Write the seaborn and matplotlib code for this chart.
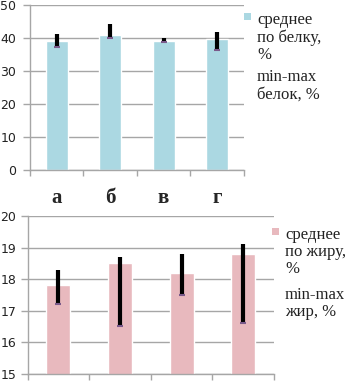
import matplotlib
matplotlib.use("Agg")
import matplotlib.pyplot as plt
import seaborn as sns
import pandas as pd
from matplotlib.ticker import FixedLocator

categories = ["а", "б", "в", "г"]
protein_mean = [39.1, 40.8, 39.1, 39.8]
protein_min = [37.1, 40.0, 38.7, 36.4]
protein_max = [41.2, 44.3, 40.1, 41.9]
fat_mean = [17.8, 18.5, 18.2, 18.8]
fat_min = [17.2, 16.5, 17.5, 16.6]
fat_max = [18.3, 18.7, 18.8, 19.1]

sns.set_style("white")
plt.rcParams["font.family"] = ["DejaVu Sans"]

grid_c = "#a6a6a6"
blue = "#abd8e2"
pink = "#e8b9be"

fig = plt.figure(figsize=(3.5, 3.81), dpi=100)
ax1 = fig.add_axes([30 / 350, (381 - 169.7) / 381, (243.7 - 30) / 350, (169.7 - 5) / 381])
ax2 = fig.add_axes([27.5 / 350, (381 - 373.7) / 381, (274 - 27.5) / 350, (373.7 - 216) / 381])

df1 = pd.DataFrame({"cat": categories, "val": protein_mean})
df2 = pd.DataFrame({"cat": categories, "val": fat_mean})

sns.barplot(data=df1, x="cat", y="val", color=blue, saturation=1, width=0.41, ax=ax1, zorder=2)
sns.barplot(data=df2, x="cat", y="val", color=pink, saturation=1, width=0.39, ax=ax2, zorder=2)

for ax, lo, hi in ((ax1, protein_min, protein_max), (ax2, fat_min, fat_max)):
    xs = list(range(len(categories)))
    ax.vlines(xs, lo, hi, color="black", lw=3.0, zorder=4)
    ax.plot(xs, lo, ls="none", marker="_", ms=5, mew=1.5, color="#7a5a8a", zorder=5)

ax1.set_ylim(0, 50)
ax1.set_yticks([0, 10, 20, 30, 40, 50])
ax2.set_ylim(15, 20)
ax2.set_yticks([15, 16, 17, 18, 19, 20])

for ax, pad in ((ax1, 5), (ax2, 3)):
    ax.set_xlim(-0.5, 3.5)
    ax.set_xlabel("")
    ax.set_ylabel("")
    ax.yaxis.grid(True, color=grid_c, lw=1.0, zorder=0)
    ax.set_axisbelow(True)
    for s in ("top", "right"):
        ax.spines[s].set_visible(False)
    for s in ("left", "bottom"):
        ax.spines[s].set_color(grid_c)
        ax.spines[s].set_linewidth(1.0)
    ax.xaxis.set_minor_locator(FixedLocator([-0.5, 0.5, 1.5, 2.5, 3.5]))
    ax.tick_params(axis="x", which="minor", length=4, width=1, color=grid_c, direction="out", bottom=True)
    ax.tick_params(axis="x", which="major", length=0)
    ax.tick_params(axis="y", which="major", length=5, width=1, color=grid_c, direction="out", left=True,
                   labelsize=9, labelcolor="#222222", pad=pad)

ax1.set_xticks(range(4))
ax1.set_xticklabels(categories, fontfamily="Liberation Serif", fontweight="bold", fontsize=15)
ax1.tick_params(axis="x", which="major", pad=13)
ax2.set_xticks(range(4))
ax2.set_xticklabels([""] * 4)

serif = "Liberation Serif"
tkw = dict(family=serif, fontsize=12, va="top", ha="left", linespacing=1.1, color="#222222")
# legend top
fig.patches.append(plt.Rectangle((244 / 350, 1 - 20 / 381), 7 / 350, 7 / 381, transform=fig.transFigure,
                                 facecolor=blue, edgecolor="none"))
fig.text(257 / 350, 1 - 12 / 381, "среднее\nпо белку,\n%", **tkw)
fig.text(257 / 350, 1 - 69 / 381, "min-max\nбелок, %", **tkw)
# legend bottom
fig.patches.append(plt.Rectangle((272 / 350, 1 - 235 / 381), 7 / 350, 7 / 381, transform=fig.transFigure,
                                 facecolor=pink, edgecolor="none"))
fig.text(285 / 350, 1 - 227 / 381, "среднее\nпо жиру,\n%", **tkw)
fig.text(285 / 350, 1 - 287 / 381, "min-max\nжир, %", **tkw)

fig.savefig("out.png", dpi=100)
